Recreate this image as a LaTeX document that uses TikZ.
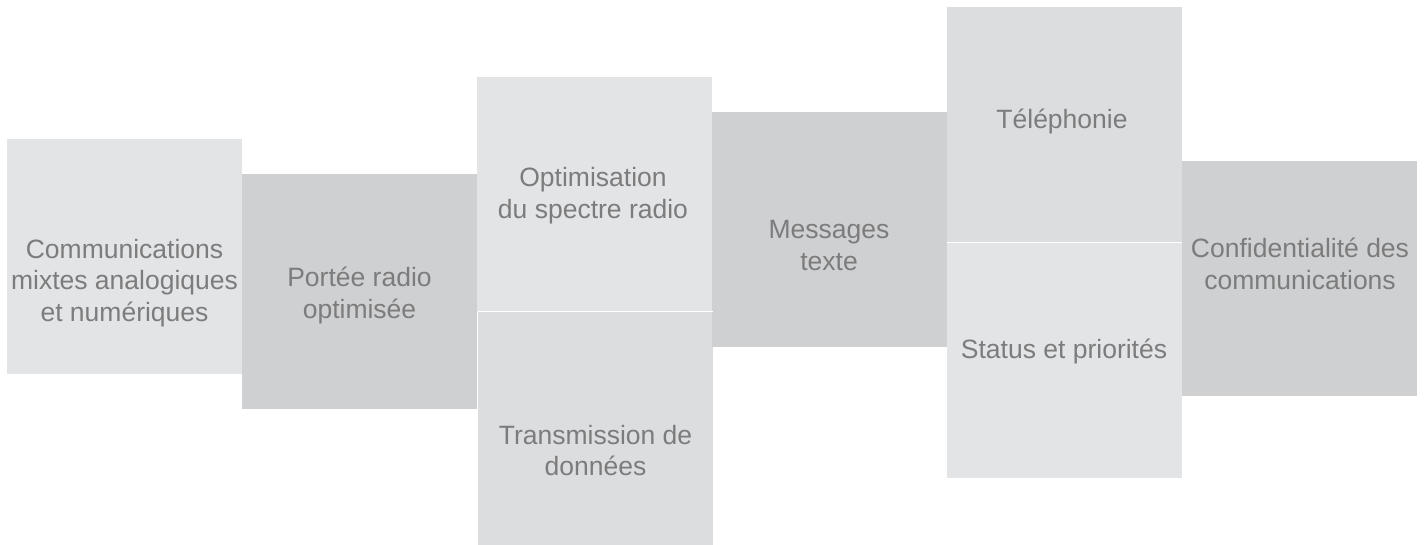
\documentclass[tikz,border=0pt]{standalone}
\usepackage{fontspec}
\setmainfont{Liberation Sans}
\definecolor{boxlight}{HTML}{E3E4E6}
\definecolor{boxmid}{HTML}{DCDDDF}
\definecolor{boxdark}{HTML}{CFD0D2}
\definecolor{txtgray}{HTML}{7C7C7C}
\tikzset{
  tile/.style={rectangle, minimum width=235bp, minimum height=235bp, inner sep=0pt, outer sep=0pt},
  sep/.style={draw=white, line width=1bp},
  lbl/.style={align=center, text=txtgray, inner sep=0pt, font=\fontsize{26.6}{31.7}\selectfont}
}
\begin{document}
\begin{tikzpicture}[x=1bp, y=-1bp]
\useasboundingbox (0,0) rectangle (1425,545);
% tiles
\node[tile, fill=boxlight] (b1) at (124.5,256.5) {};
\node[tile, fill=boxdark]  (b2) at (359.5,291.5) {};
\node[tile, fill=boxlight] (b3) at (594.5,194.5) {};
\node[tile, fill=boxmid]   (b4) at (595.5,429.5) {};
\node[tile, fill=boxdark]  (b5) at (829.5,229.5) {};
\node[tile, fill=boxmid]   (b6) at (1064.5,124.5) {};
\node[tile, fill=boxlight] (b7) at (1064.5,360) {};
\node[tile, fill=boxdark]  (b8) at (1299.5,278.5) {};
\draw[sep] (b4.north west) -- (b4.north east);
\draw[sep] (b7.north west) -- (b7.north east);
% labels
\node[lbl] (t1) at (124.5,283) {Communications\\mixtes analogiques\\et numériques};
\node[lbl] (t2) at (359.5,295.5) {Portée radio\\optimisée};
\node[lbl] (t3) at (593,195.5) {Optimisation\\du spectre radio};
\node[lbl] (t4) at (595.5,450.5) {Transmission de\\données};
\node[lbl] (t5) at (829,245.5) {Messages\\texte};
\node[lbl] (t6) at (1062,121) {Téléphonie};
\node[lbl] (t7) at (1064,351) {Status et priorités};
\node[lbl] (t8) at (1300,264) {Confidentialité des\\communications};
\end{tikzpicture}
\end{document}
